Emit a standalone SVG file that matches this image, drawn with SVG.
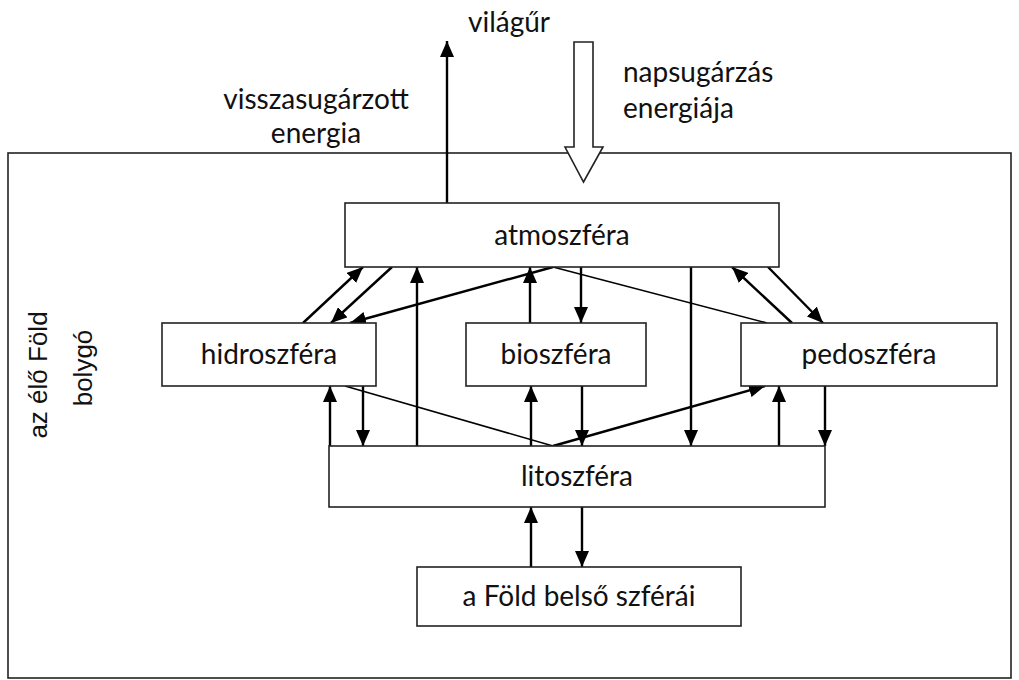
<svg xmlns="http://www.w3.org/2000/svg" width="1019" height="680" viewBox="0 0 1019 680">
  <style>
    .box { fill: #fff; stroke: #222; stroke-width: 1.6; }
    .lbl { font-family: Lato, "Liberation Sans", sans-serif; font-size: 28px; fill: #111; text-anchor: middle; }
    .note { font-family: Lato, "Liberation Sans", sans-serif; font-size: 28px; fill: #111; }
    .side { font-family: "Liberation Sans", Arial, sans-serif; font-size: 26px; fill: #111; text-anchor: middle; }
    .arr { fill: none; stroke: #000; stroke-width: 2.4; marker-end: url(#head); }
    .thin { fill: none; stroke: #000; stroke-width: 1.6; }
  </style>
  <defs>
    <marker id="head" viewBox="0 0 16 14" refX="16" refY="7" markerWidth="16" markerHeight="14" markerUnits="userSpaceOnUse" orient="auto">
      <path d="M0,0 L16,7 L0,14 z" fill="#000"/>
    </marker>
  </defs>

  <rect width="1019" height="680" fill="#fff"/>

  <!-- planet frame -->
  <g id="frame">
    <rect x="8" y="153" width="1003" height="525" fill="none" stroke="#222" stroke-width="1.6"/>
    <text class="side" transform="translate(47,375) rotate(-90)">az élő Föld</text>
    <text class="side" transform="translate(92,368) rotate(-90)">bolygó</text>
  </g>

  <!-- energy exchange with space -->
  <g id="space">
    <text class="note" x="468" y="32">világűr</text>
    <text class="note" x="316" y="109" text-anchor="middle">visszasugárzott</text>
    <text class="note" x="316" y="143" text-anchor="middle">energia</text>
    <text class="note" x="623" y="82">napsugárzás</text>
    <text class="note" x="623" y="118">energiája</text>
    <line class="arr" x1="447" y1="203" x2="447" y2="41"/>
    <path d="M574,42 H593 V147 H603 L583.5,182 L565,147 H574 Z" fill="#fff" stroke="#222" stroke-width="1.6"/>
  </g>

  <!-- connectors -->
  <g id="connectors">
    <!-- atmosphere / hydrosphere -->
    <line class="arr" x1="303" y1="323" x2="363" y2="267"/>
    <line class="arr" x1="392" y1="267" x2="331" y2="323"/>
    <line class="thin" x1="767" y1="323" x2="553" y2="267"/>
    <line class="arr" x1="553" y1="267" x2="350" y2="323"/>
    <line class="arr" x1="417" y1="446" x2="417" y2="267"/>
    <!-- atmosphere / biosphere -->
    <line class="arr" x1="530" y1="323" x2="530" y2="267"/>
    <line class="arr" x1="581" y1="267" x2="581" y2="323"/>
    <!-- atmosphere / lithosphere -->
    <line class="arr" x1="691" y1="267" x2="691" y2="446"/>
    <!-- atmosphere / pedosphere -->
    <line class="arr" x1="792" y1="323" x2="732" y2="267"/>
    <line class="arr" x1="768" y1="267" x2="823" y2="323"/>

    <!-- spheres / lithosphere -->
    <line class="arr" x1="330" y1="446" x2="330" y2="386"/>
    <line class="arr" x1="363" y1="386" x2="363" y2="446"/>
    <line class="thin" x1="345" y1="386" x2="553" y2="446"/>
    <line class="arr" x1="553" y1="446" x2="765" y2="386"/>
    <line class="arr" x1="531" y1="446" x2="531" y2="386"/>
    <line class="arr" x1="582" y1="386" x2="582" y2="446"/>
    <line class="arr" x1="779" y1="446" x2="779" y2="386"/>
    <line class="arr" x1="825" y1="386" x2="825" y2="446"/>

    <!-- lithosphere / inner spheres -->
    <line class="arr" x1="531" y1="567" x2="531" y2="507"/>
    <line class="arr" x1="582" y1="507" x2="582" y2="567"/>
  </g>

  <g id="atmoszfera">
    <rect class="box" x="345" y="203" width="434" height="64"/>
    <text class="lbl" x="562" y="245">atmoszféra</text>
  </g>
  <g id="hidroszfera">
    <rect class="box" x="162" y="323" width="214" height="63"/>
    <text class="lbl" x="269" y="364">hidroszféra</text>
  </g>
  <g id="bioszfera">
    <rect class="box" x="466" y="323" width="180" height="63"/>
    <text class="lbl" x="556" y="364">bioszféra</text>
  </g>
  <g id="pedoszfera">
    <rect class="box" x="741" y="323" width="256" height="63"/>
    <text class="lbl" x="869" y="364">pedoszféra</text>
  </g>
  <g id="litoszfera">
    <rect class="box" x="329" y="446" width="496" height="61"/>
    <text class="lbl" x="577" y="486">litoszféra</text>
  </g>
  <g id="belso-szferak">
    <rect class="box" x="417" y="567" width="324" height="59"/>
    <text class="lbl" x="579" y="606">a Föld belső szférái</text>
  </g>
</svg>
